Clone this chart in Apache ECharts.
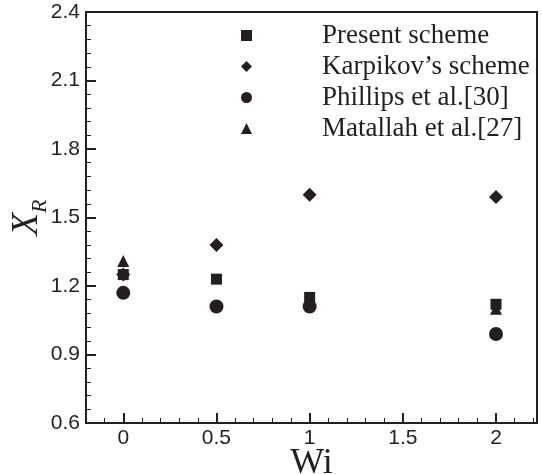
<!DOCTYPE html>
<html>
<head>
<meta charset="utf-8">
<script src="https://cdn.jsdelivr.net/npm/echarts@6/dist/echarts.min.js"></script>
<style>
  html, body { margin: 0; padding: 0; background: #fff; }
  #main { width: 542px; height: 474px; }
</style>
</head>
<body>
<div id="main"></div>
<script>
// 数据
var names = ['Present scheme', 'Karpikov\u2019s scheme', 'Phillips et al.[30]', 'Matallah et al.[27]'];
var wi_present = [0, 0.5, 1, 2];
var xr_present = [1.25, 1.23, 1.15, 1.12];
var wi_karpikov = [0, 0.5, 1, 2];
var xr_karpikov = [1.25, 1.38, 1.60, 1.59];
var wi_phillips = [0, 0.5, 1, 2];
var xr_phillips = [1.17, 1.11, 1.11, 0.99];
var wi_matallah = [0, 2];
var xr_matallah = [1.31, 1.10];
var xMajor = [0, 0.5, 1, 1.5, 2];
var xMinor = [-0.1, 0.1, 0.2, 0.3, 0.4, 0.6, 0.7, 0.8, 0.9, 1.1, 1.2, 1.3, 1.4, 1.6, 1.7, 1.8, 1.9, 2.1, 2.2];

function pairs(xs, ys) {
    var out = [];
    for (var i = 0; i < xs.length; i++) {
        out.push([xs[i], ys[i]]);
    }
    return out;
}

var black = '#231f20';
var sans = 'Liberation Sans';
var serif = 'Liberation Serif';

var myChart = echarts.init(document.getElementById('main'));

var option = {
    animation: false,
    grid: {
        left: 86, right: 5, top: 12, bottom: 51,
        outerBoundsMode: 'none',
        containLabel: false,
        show: true,
        borderColor: black,
        borderWidth: 2
    },
    legend: {
        orient: 'vertical',
        left: 236,
        top: 17,
        itemWidth: 11,
        itemHeight: 11,
        itemGap: 4,
        data: names,
        textStyle: {
            fontFamily: serif,
            fontSize: 27,
            lineHeight: 27,
            color: black,
            padding: [0, 0, 0, 65]
        }
    },
    xAxis: [
        {
            type: 'value',
            min: -0.2,
            max: 2.22,
            name: 'Wi',
            nameLocation: 'middle',
            nameGap: 23,
            nameMoveOverlap: false,
            nameTextStyle: { fontFamily: serif, fontSize: 36, color: black },
            splitLine: { show: false },
            axisLine: { onZero: false, lineStyle: { color: black, width: 2 } },
            axisTick: {
                inside: true,
                length: 10,
                customValues: xMajor,
                lineStyle: { color: black, width: 2 }
            },
            axisLabel: {
                customValues: xMajor,
                fontFamily: sans,
                fontSize: 21,
                color: black,
                margin: 5
            }
        },
        {
            type: 'value',
            min: -0.2,
            max: 2.22,
            position: 'bottom',
            splitLine: { show: false },
            axisLine: { show: false, onZero: false },
            axisLabel: { show: false },
            axisTick: {
                inside: true,
                length: 5,
                customValues: xMinor,
                lineStyle: { color: black, width: 1 }
            }
        }
    ],
    yAxis: {
        type: 'value',
        min: 0.6,
        max: 2.4,
        interval: 0.3,
        name: '{x|X}{r|R}',
        nameLocation: 'middle',
        nameGap: 40,
        nameMoveOverlap: false,
        nameTextStyle: {
            rich: {
                x: { fontFamily: serif, fontStyle: 'italic', fontSize: 37, color: black },
                r: { fontFamily: serif, fontStyle: 'italic', fontSize: 22, color: black, verticalAlign: 'bottom', padding: [0, 0, -5, 0] }
            }
        },
        splitLine: { show: false },
        minorSplitLine: { show: false },
        axisLine: { show: true, onZero: false, lineStyle: { color: black, width: 2 } },
        axisTick: { inside: true, length: 10, lineStyle: { color: black, width: 2 } },
        minorTick: { show: true, splitNumber: 5, length: 5, lineStyle: { color: black, width: 1 } },
        axisLabel: {
            fontFamily: sans,
            fontSize: 21,
            color: black,
            margin: 6,
            formatter: function (v) { return v.toFixed(1); }
        }
    },
    series: [
        {
            name: names[0],
            type: 'scatter',
            symbol: 'rect',
            symbolSize: 11,
            z: 3,
            itemStyle: { color: black, opacity: 1 },
            data: pairs(wi_present, xr_present)
        },
        {
            name: names[1],
            type: 'scatter',
            symbol: 'diamond',
            symbolSize: 14,
            z: 3,
            itemStyle: { color: black, opacity: 1 },
            data: pairs(wi_karpikov, xr_karpikov)
        },
        {
            name: names[2],
            type: 'scatter',
            symbol: 'circle',
            symbolSize: 14,
            z: 3,
            itemStyle: { color: black, opacity: 1 },
            data: pairs(wi_phillips, xr_phillips)
        },
        {
            name: names[3],
            type: 'scatter',
            symbol: 'triangle',
            symbolSize: 12,
            z: 2,
            itemStyle: { color: black, opacity: 1 },
            data: pairs(wi_matallah, xr_matallah)
        }
    ]
};

myChart.setOption(option);
</script>
</body>
</html>
